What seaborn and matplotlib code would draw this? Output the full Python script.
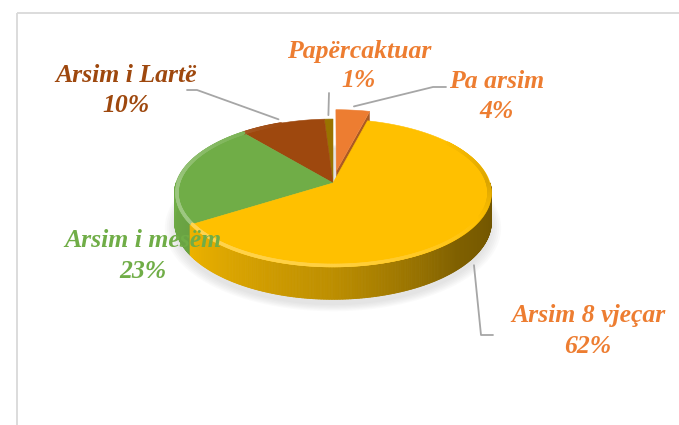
import numpy as np
import seaborn as sns
import matplotlib
matplotlib.use("Agg")
import matplotlib.pyplot as plt
from matplotlib.collections import PolyCollection, LineCollection
from matplotlib.colors import to_rgb

sns.set_theme(style="white")
plt.rcParams["font.family"] = ["Liberation Serif", "DejaVu Serif"]

# data, in Excel order (clockwise from 12 o'clock)
categories = ["Pa arsim", "Arsim 8 vjeçar", "Arsim i mesëm", "Arsim i Lartë", "Papërcaktuar"]
shares = [4, 62, 23, 10, 1]
slice_colors = ["#ED7D31", "#FFC000", "#70AD47", "#9E480E", "#997300"]
label_colors = ["#ED7D31", "#ED7D31", "#70AD47", "#9E480E", "#ED7D31"]
explode = [0.17, 0, 0, 0, 0]

# layout of the tilted pie (pixels, y pointing down)
CX, CY = 333, 183
RX, RY = 157, 72.6
PERSP = 0.135
DEPTH = 28

# label placement: x centre, baseline of name, baseline of percent
label_pos = {
    "Pa arsim": (497, 88, 118),
    "Arsim 8 vjeçar": (588, 322, 353),
    "Arsim i mesëm": (143, 247, 278),
    "Arsim i Lartë": (126, 82, 112),
    "Papërcaktuar": (359, 58, 87),
}
# leader line points on the label side
leader_pts = {
    "Pa arsim": [(446, 87), (433, 87)],
    "Arsim 8 vjeçar": [(493, 335), (481, 335)],
    "Arsim i Lartë": [(187, 90), (197, 90)],
    "Papërcaktuar": [(329, 93)],
}


def project(u, v, drop=0.0):
    u = np.asarray(u, dtype=float)
    v = np.asarray(v, dtype=float)
    s = 1.0 / (1.0 + PERSP * v)
    return CX + RX * u * s, CY - RY * v * s + drop * s


def shade(rgb, k):
    return tuple(np.clip(np.array(rgb) * k, 0, 1))


def lighten(rgb, w):
    if w < 0:
        return shade(rgb, 1 + w)
    return tuple(np.array(rgb) * (1 - w) + w)


def wall_factor(theta):
    t = np.mod(theta, 360)
    return np.interp(t, [180, 212, 270, 315, 360], [1.0, 0.93, 0.74, 0.5, 0.42])


def rim_factor(theta):
    t = np.mod(theta + 90, 360)  # 0 at 270 deg (front), wraps at the back
    # positions: left(180)->270, front(270)->0, right(0)->90, back-right(40)->130
    return np.interp(t, [0, 45, 90, 130, 200, 270, 300, 360],
                     [0.25, 0.08, -0.14, 0.0, 0.0, 0.3, 0.32, 0.25])


fig = plt.figure(figsize=(6.79, 4.25), dpi=100)
ax = fig.add_axes([0, 0, 1, 1])
ax.set_xlim(0, 679)
ax.set_ylim(425, 0)
ax.axis("off")

# chart frame
ax.plot([17, 679], [13, 13], color="#D9D9D9", lw=1.3, solid_capstyle="butt")
ax.plot([17, 17], [13, 425], color="#D9D9D9", lw=1.3, solid_capstyle="butt")

cum = np.concatenate([[0], np.cumsum(shares)])
starts = 90 - 3.6 * cum[:-1]
ends = 90 - 3.6 * cum[1:]
mids = (starts + ends) / 2

# soft shadow under the pie
full = np.radians(np.linspace(0, 360, 200))
for grow in np.linspace(1.06, 1.0, 6):
    sx, sy = project(np.cos(full) * grow, np.sin(full) * grow, DEPTH + 5)
    ax.fill(sx, sy, color="#808080", alpha=0.035, lw=0)

# draw slices from back to front
order = sorted(range(len(shares)),
               key=lambda i: -(np.sin(np.radians(mids[i])) * (1 + explode[i])))
for i in order:
    base = to_rgb(slice_colors[i])
    ox = explode[i] * np.cos(np.radians(mids[i]))
    oy = explode[i] * np.sin(np.radians(mids[i]))
    th = np.linspace(starts[i], ends[i], max(int(abs(starts[i] - ends[i]) * 2), 2) + 1)
    rad = np.radians(th)
    ux, vy = ox + np.cos(rad), oy + np.sin(rad)

    # outer wall (front half only)
    polys, cols = [], []
    for j in range(len(th) - 1):
        tm = np.radians((th[j] + th[j + 1]) / 2)
        if np.sin(tm) >= 0:
            continue
        x1, y1 = project(ux[j], vy[j])
        x2, y2 = project(ux[j + 1], vy[j + 1])
        x3, y3 = project(ux[j + 1], vy[j + 1], DEPTH)
        x4, y4 = project(ux[j], vy[j], DEPTH)
        polys.append([(x1, y1), (x2, y2), (x3, y3), (x4, y4)])
        cols.append(shade(base, wall_factor((th[j] + th[j + 1]) / 2)))
    if polys:
        ax.add_collection(PolyCollection(polys, facecolors=cols, edgecolors=cols, linewidths=0.6))

    # cut face of an exploded slice
    if explode[i] > 0:
        e = np.radians(ends[i])
        if np.cos(e) > 0:
            pts = [project(ox, oy), project(ox + np.cos(e), oy + np.sin(e)),
                   project(ox + np.cos(e), oy + np.sin(e), DEPTH), project(ox, oy, DEPTH)]
            ax.fill([p[0] for p in pts], [p[1] for p in pts], color=shade(base, 0.72), lw=0)

    # top face
    tx, ty = project(np.concatenate([[ox], ux]), np.concatenate([[oy], vy]))
    ax.fill(tx, ty, color=base, ec=base, lw=0.4)

    # bevel highlight / shading along the rim
    if explode[i] > 0:
        continue
    segs, scol = [], []
    rx, ry = project(ux * 0.985, vy * 0.985)
    for j in range(len(th) - 1):
        tm = (th[j] + th[j + 1]) / 2
        w = float(rim_factor(tm))
        if abs(w) < 0.01:
            continue
        segs.append([(rx[j], ry[j]), (rx[j + 1], ry[j + 1])])
        scol.append(lighten(base, w))
    if segs:
        ax.add_collection(LineCollection(segs, colors=scol, linewidths=2.5, capstyle="round"))

# leader lines
for i, name in enumerate(categories):
    if name not in leader_pts:
        continue
    m = np.radians(mids[i])
    if np.sin(m) < 0:
        r, drop = 1.02, DEPTH + 4
    else:
        r, drop = 1.07, 0
    ex, ey = project(explode[i] * np.cos(m) + r * np.cos(m),
                     explode[i] * np.sin(m) + r * np.sin(m), drop)
    pts = leader_pts[name] + [(float(ex), float(ey))]
    ax.plot([p[0] for p in pts], [p[1] for p in pts], color="#A6A6A6", lw=1.3)

# data labels
for i, name in enumerate(categories):
    x, y1, y2 = label_pos[name]
    kw = dict(ha="center", va="baseline", fontsize=18.5, fontweight="bold",
              fontstyle="italic", color=label_colors[i])
    ax.text(x, y1, name, **kw)
    ax.text(x, y2, f"{shares[i]}%", **kw)

fig.savefig("out.png", dpi=100)
